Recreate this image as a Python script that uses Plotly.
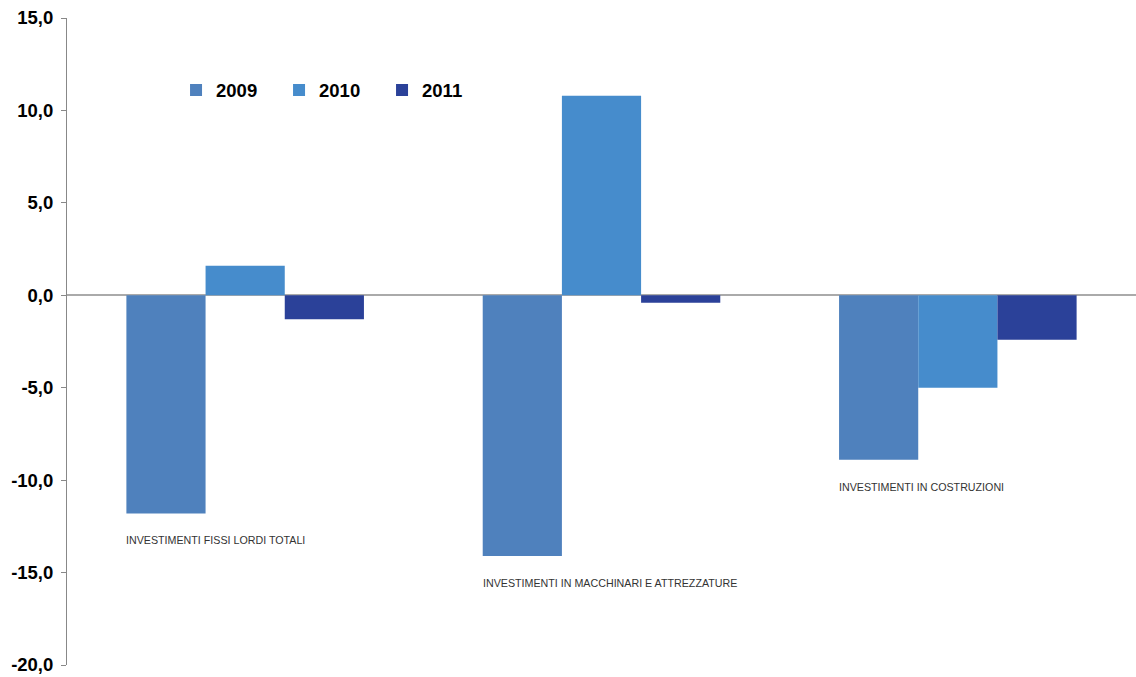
import plotly.graph_objects as go

categories = ["INVESTIMENTI FISSI LORDI TOTALI",
              "INVESTIMENTI IN MACCHINARI E ATTREZZATURE",
              "INVESTIMENTI IN COSTRUZIONI"]
years = ["2009", "2010", "2011"]
v2009 = [-11.8, -14.1, -8.9]
v2010 = [1.6, 10.8, -5.0]
v2011 = [-1.3, -0.4, -2.4]
colors = ["#4F81BD", "#468CCC", "#2B4199"]
tickvals = [-20, -15, -10, -5, 0, 5, 10, 15]
ticktext = ["-20,0", "-15,0", "-10,0", "-5,0", "0,0", "5,0", "10,0", "15,0"]

series = [v2009, v2010, v2011]
bargap = 1/3
FONT = "Liberation Sans, Arial"

fig = go.Figure()
for name, vals, col in zip(years, series, colors):
    fig.add_trace(go.Bar(x=list(range(len(categories))), y=vals, name="<b>" + name + "</b>",
                         marker=dict(color=col, line=dict(width=0))))

for i, cat in enumerate(categories):
    low = min(s[i] for s in series)
    fig.add_annotation(x=i - (1 - bargap) / 2, y=low, xref="x", yref="y",
                       text=cat, showarrow=False, xanchor="left", yanchor="middle",
                       yshift=-27, xshift=-2,
                       font=dict(family=FONT, size=10.7, color="#333333"))

fig.update_layout(
    width=1136, height=677,
    margin=dict(l=67, r=0, t=18, b=12),
    paper_bgcolor="white", plot_bgcolor="white",
    barmode="group", bargap=bargap, bargroupgap=0,
    showlegend=True,
    legend=dict(orientation="h", x=0.102, y=0.888, xanchor="left", yanchor="middle",
                entrywidth=58, entrywidthmode="pixels",
                font=dict(family=FONT, size=18.5, color="#000000"),
                bgcolor="rgba(0,0,0,0)"),
    xaxis=dict(showticklabels=False, showline=False, showgrid=False, zeroline=False,
               ticks="", range=[-0.5, len(categories) - 0.5]),
    yaxis=dict(range=[-20, 15], tickvals=tickvals,
               ticktext=["<b>" + t + "</b>" for t in ticktext],
               showgrid=False, showline=True, linecolor="#888888", linewidth=1,
               ticks="outside", ticklen=5, tickcolor="#888888",
               zeroline=True, zerolinecolor="#AAAAAA", zerolinewidth=2,
               tickfont=dict(family=FONT, size=18.5, color="#000000"),
               ticklabelstandoff=4),
)
fig.write_html("out.html", config={"displayModeBar": False},
               post_script="document.body.style.margin='0';document.body.style.padding='0';")
